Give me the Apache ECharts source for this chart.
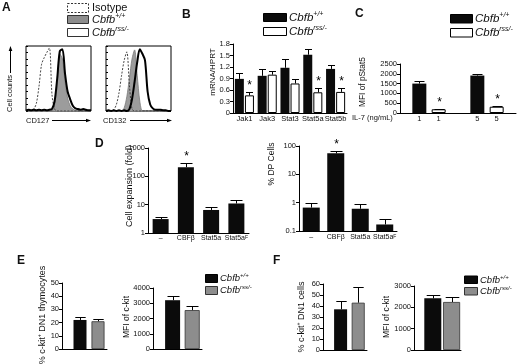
<!DOCTYPE html>
<html><head><meta charset="utf-8">
<script src="https://cdn.jsdelivr.net/npm/echarts@6/dist/echarts.min.js"></script>
<style>html,body{margin:0;padding:0;background:#fff}#c{width:520px;height:364px}</style>
</head><body><div id="c"></div><script>
const FF = 'Liberation Sans, Arial, Helvetica, sans-serif';
const INK = '#111';

// ---- Panel A: flow cytometry histograms (bins 0..100, step 4)
const histBins = [0,4,8,12,16,20,24,28,32,36,40,44,48,52,56,60,64,68,72,76,80,84,88,92,96,100];
const cd127Iso = [0,0,1,3,12,38,72,82,90,97,25,3,0,0,0,0,0,0,0,0,0,0,0,0,0,0];
const cd127Wt  = [0,0,0,0,0,0,0,0,0,0,0,10,40,88,80,45,20,8,3,1,0,0,0,0,0,0];
const cd127Rss = [1,2,1,2,1,2,1,2,1,2,3,15,50,92,95,58,30,18,8,4,3,2,3,2,1,1];
const cd132Iso = [0,0,0,2,10,28,55,78,91,40,3,0,0,0,0,0,0,0,0,0,0,0,0,0,0,0];
const cd132Wt  = [0,0,0,0,0,0,0,5,22,50,80,94,55,15,0,0,0,0,0,0,0,0,0,0,0,0];
const cd132Rss = [0,1,0,1,0,1,0,1,0,3,18,45,75,95,88,78,30,10,4,2,2,2,1,1,0,0];

// ---- Panel B: mRNA/HPRT
const bGenes = ['Jak1','Jak3','Stat3','Stat5a','Stat5b'];
const bWt     = [0.89,0.97,1.18,1.52,1.15];
const bWtErr  = [1.05,1.14,1.42,1.67,1.24];
const bRss    = [0.46,1.00,0.77,0.54,0.55];
const bRssErr = [0.55,1.09,0.89,0.64,0.65];
const bRssStar = [1,0,0,1,1];

// ---- Panel C: MFI of pStat5
const cDoses = ['1','5'];
const cWt     = [1500,1910];
const cWtErr  = [1610,2000];
const cRss    = [190,320];
const cRssErr = [210,350];
const cRssStar = [1,1];

// ---- Panel D
const dCats = ['–','CBFβ','Stat5a','Stat5aF'];
const dExp     = [3.1,210,6.5,11];
const dExpErr  = [3.7,290,8.0,15];
const dExpStar = [0,1,0,0];
const dDp      = [0.67,55,0.61,0.17];
const dDpErr   = [1.0,68,0.88,0.26];
const dDpStar  = [0,1,0,0];

// ---- Panels E, F
const eFreq = [22,21];     const eFreqErr = [24.5,23];
const eMfi  = [3200,2550]; const eMfiErr  = [3450,2800];
const fFreq = [37,43];     const fFreqErr = [45,57];
const fMfi  = [2420,2250]; const fMfiErr  = [2600,2470];

const chart = echarts.init(document.getElementById('c'), null, {renderer:'canvas'});

const grids = [
  {left:26, top:46, width:65, height:65, show:true, borderColor:'#000', borderWidth:1},   // 0 A left
  {left:106, top:46, width:65, height:65, show:true, borderColor:'#000', borderWidth:1},  // 1 A right
  {left:233, top:44, width:114, height:69},   // 2 B
  {left:400, top:64, width:116, height:49},   // 3 C
  {left:148, top:148, width:101, height:85},  // 4 D left
  {left:299, top:146, width:98, height:85},   // 5 D right
  {left:62, top:283, width:45, height:66},    // 6 E left
  {left:153, top:288, width:49, height:61},   // 7 E right
  {left:323, top:284, width:44, height:66},   // 8 F left
  {left:414, top:286, width:47, height:64}    // 9 F right
];

const axLine = {show:true, lineStyle:{color:'#000', width:1}};
const tickLab = {fontSize:7.5, color:INK, fontFamily:FF, margin:3, formatter: v => String(v)};
function yVal(gi, min, max, interval, extra) {
  return Object.assign({type:'value', gridIndex:gi, min, max, interval, axisLine:axLine,
    axisTick:{show:true, length:3, lineStyle:{color:'#000'}}, splitLine:{show:false},
    axisLabel:Object.assign({}, tickLab)}, extra||{});
}
function yLog(gi, min, max) {
  return {type:'log', logBase:10, gridIndex:gi, min, max, axisLine:axLine,
    axisTick:{show:true, length:3, lineStyle:{color:'#000'}}, splitLine:{show:false},
    minorTick:{show:false}, axisLabel:Object.assign({}, tickLab)};
}
const dLabel = {fontSize:7, color:INK, fontFamily:FF, margin:2,
  formatter: v => v === 'Stat5aF' ? 'Stat5a{sup|F}' : v,
  rich:{sup:{fontSize:5, verticalAlign:'top', lineHeight:5, fontFamily:FF, color:INK}}};

const xAxes = [
  {type:'value', gridIndex:0, min:0, max:100, show:false},
  {type:'value', gridIndex:1, min:0, max:100, show:false},
  {type:'category', gridIndex:2, data:bGenes, axisLine:axLine, axisTick:{show:false},
    axisLabel:{fontSize:7.5, color:INK, fontFamily:FF, margin:2, interval:0}},
  {type:'value', gridIndex:3, min:0, max:6, axisLine:axLine, axisTick:{show:false}, splitLine:{show:false},
    axisLabel:{fontSize:7.5, color:INK, fontFamily:FF, margin:2,
      customValues: cDoses.flatMap((d,g)=>[g*3+1, g*3+2]),
      formatter: v => cDoses[Math.floor((v-1)/3)]}},
  {type:'category', gridIndex:4, data:dCats, axisLine:axLine, axisTick:{show:false}, axisLabel:Object.assign({}, dLabel, {interval:0})},
  {type:'category', gridIndex:5, data:dCats, axisLine:axLine, axisTick:{show:false}, axisLabel:Object.assign({}, dLabel, {interval:0, margin:3})},
  {type:'value', gridIndex:6, min:0, max:2.5, axisLine:axLine, axisTick:{show:false}, axisLabel:{show:false}, splitLine:{show:false}},
  {type:'value', gridIndex:7, min:0, max:2.5, axisLine:axLine, axisTick:{show:false}, axisLabel:{show:false}, splitLine:{show:false}},
  {type:'value', gridIndex:8, min:0, max:2.5, axisLine:axLine, axisTick:{show:false}, axisLabel:{show:false}, splitLine:{show:false}},
  {type:'value', gridIndex:9, min:0, max:2.5, axisLine:axLine, axisTick:{show:false}, axisLabel:{show:false}, splitLine:{show:false}}
];
const histY = gi => ({type:'value', gridIndex:gi, min:0, max:100, interval:10, axisLine:{show:false},
  axisLabel:{show:false}, splitLine:{show:false}, axisTick:{show:true, inside:true, length:2, lineStyle:{color:'#000'}}});
const yAxes = [
  histY(0), histY(1),
  yVal(2, 0, 1.8, 0.3, {axisLabel:Object.assign({}, tickLab, {formatter: v => v === 0 ? '0' : v.toFixed(1)})}),
  yVal(3, 0, 2500, 500),
  yLog(4, 1, 1000),
  yLog(5, 0.1, 100),
  yVal(6, 0, 50, 10),
  yVal(7, 0, 4000, 1000),
  yVal(8, 0, 60, 10),
  yVal(9, 0, 3000, 1000)
];

const pairs = arr => histBins.map((b,i)=>[b, arr[i]]);
function histSeries(i, iso, wt, rss) {
  return [
    {type:'line', xAxisIndex:i, yAxisIndex:i, data:pairs(wt), smooth:0.3, showSymbol:false, silent:true,
      lineStyle:{color:'#7a7a7a', width:0.8}, areaStyle:{color:'#9c9c9c', opacity:1}, z:2},
    {type:'line', xAxisIndex:i, yAxisIndex:i, data:pairs(iso), smooth:0.3, showSymbol:false, silent:true,
      lineStyle:{color:'#333', width:0.9, type:[2,1.5]}, z:3},
    {type:'line', xAxisIndex:i, yAxisIndex:i, data:pairs(rss), smooth:0.3, showSymbol:false, silent:true,
      lineStyle:{color:'#000', width:2}, z:4}
  ];
}

function errSeries(xi, data, offset, cap) {
  return {type:'custom', xAxisIndex:xi, yAxisIndex:xi, z:10, silent:true, data,
    renderItem(params, api) {
      const a = api.coord([api.value(0), api.value(1)]);
      const b = api.coord([api.value(0), api.value(2)]);
      const x = Math.round(a[0] + offset) + 0.5;
      const yt = Math.round(b[1]) + 0.5;
      const ch = [
        {type:'line', shape:{x1:x, y1:a[1], x2:x, y2:yt}, style:{stroke:'#000', lineWidth:1}},
        {type:'line', shape:{x1:x-cap, y1:yt, x2:x+cap, y2:yt}, style:{stroke:'#000', lineWidth:1}}
      ];
      if (api.value(3)) ch.push({type:'text', style:{text:'*', x:x, y:yt-1, align:'center', verticalAlign:'bottom',
        fontSize:12, fontFamily:FF, fill:'#000'}});
      return {type:'group', children:ch};
    }};
}
function logBars(xi, vals, base, width) {
  return {type:'custom', xAxisIndex:xi, yAxisIndex:xi, z:5, silent:true,
    data: vals.map((v,i)=>[i, v]),
    renderItem(params, api) {
      const t = api.coord([api.value(0), api.value(1)]);
      const b = api.coord([api.value(0), base]);
      return {type:'rect', shape:{x:t[0]-width/2, y:t[1], width:width, height:b[1]-t[1]}, style:{fill:'#0b0b0b'}};
    }};
}
const BLACK = {color:'#0b0b0b'};
const WHITE = {color:'#fff', borderColor:'#000', borderWidth:1};
const GRAY  = {color:'#8d8d8d', borderColor:'#333', borderWidth:0.8};

const series = [
  ...histSeries(0, cd127Iso, cd127Wt, cd127Rss),
  ...histSeries(1, cd132Iso, cd132Wt, cd132Rss),
  // B
  {type:'bar', xAxisIndex:2, yAxisIndex:2, data:bWt, barWidth:9, barGap:'12%', itemStyle:BLACK, silent:true},
  {type:'bar', xAxisIndex:2, yAxisIndex:2, data:bRss, barWidth:9, barGap:'12%', itemStyle:WHITE, silent:true},
  errSeries(2, bWt.map((v,i)=>[i, v, bWtErr[i], 0]), -5, 3.5),
  errSeries(2, bRss.map((v,i)=>[i, v, bRssErr[i], bRssStar[i]]), 5, 3.5),
  // C
  {type:'bar', xAxisIndex:3, yAxisIndex:3, data:cWt.map((v,g)=>[g*3+1, v]), barWidth:14, barGap:'-100%', itemStyle:BLACK, silent:true},
  {type:'bar', xAxisIndex:3, yAxisIndex:3, data:cRss.map((v,g)=>[g*3+2, v]), barWidth:14, barGap:'-100%', itemStyle:WHITE, silent:true},
  errSeries(3, cWt.map((v,g)=>[g*3+1, v, cWtErr[g], 0]), 0, 5),
  errSeries(3, cRss.map((v,g)=>[g*3+2, v, cRssErr[g], cRssStar[g]]), 0, 5),
  // D
  logBars(4, dExp, 1, 16),
  errSeries(4, dExp.map((v,i)=>[i, v, dExpErr[i], dExpStar[i]]), 0, 6),
  logBars(5, dDp, 0.1, 17),
  errSeries(5, dDp.map((v,i)=>[i, v, dDpErr[i], dDpStar[i]]), 0, 6),
];
// E, F
[[6, eFreq, eFreqErr, 13], [7, eMfi, eMfiErr, 15], [8, fFreq, fFreqErr, 13], [9, fMfi, fMfiErr, 17]].forEach(([gi, vals, errs, w]) => {
  series.push({type:'bar', xAxisIndex:gi, yAxisIndex:gi, data:[[1, vals[0]]], barWidth:w, barGap:'-100%', itemStyle:BLACK, silent:true});
  series.push({type:'bar', xAxisIndex:gi, yAxisIndex:gi, data:[[2, vals[1]]], barWidth:w, barGap:'-100%', itemStyle:GRAY, silent:true});
  series.push(errSeries(gi, vals.map((v,i)=>[i+1, v, errs[i], 0]), 0, w*0.4));
});

// ---- graphic helpers (labels, legends)
function txt(x, y, text, o) {
  o = o || {};
  const fs = o.fs || 8;
  return {type:'text', x:x, y:y, rotation:o.rot||0, silent:true, z:50,
    style:{text:text, fontSize:fs, fontFamily:FF, fontWeight:o.bold?'bold':'normal', fill:INK,
      align:o.align||'left', verticalAlign:'middle', rich:o.rich}};
}
function supRich(fs, italic) {
  return {
    i:{fontStyle:italic?'italic':'normal', fontSize:fs, fontFamily:FF, lineHeight:fs+2, fill:INK},
    s:{fontStyle:italic?'italic':'normal', fontSize:Math.round(fs*0.6), fontFamily:FF, verticalAlign:'top', lineHeight:Math.round(fs*0.6)+1, fill:INK}
  };
}
function box(x, y, w, h, fill, stroke, dash) {
  return {type:'rect', silent:true, z:50, shape:{x:x, y:y, width:w, height:h},
    style:{fill:fill, stroke:stroke||'#000', lineWidth:1, lineDash:dash||null}};
}
function line(x1, y1, x2, y2) {
  return {type:'line', silent:true, z:50, shape:{x1, y1, x2, y2}, style:{stroke:'#000', lineWidth:1}};
}
function tri(pts) { return {type:'polygon', silent:true, z:50, shape:{points:pts}, style:{fill:'#000'}}; }
const WT = '{i|Cbfb}{s|+/+}', RSS = '{i|Cbfb}{s|rss/-}';

const graphic = [
  // panel letters
  txt(2, 8, 'A', {fs:12, bold:true}), txt(182, 15, 'B', {fs:12, bold:true}), txt(355, 14, 'C', {fs:12, bold:true}),
  txt(95, 144, 'D', {fs:12, bold:true}), txt(17, 261, 'E', {fs:12, bold:true}), txt(273, 261, 'F', {fs:12, bold:true}),
  // A legend
  box(67.5, 3.5, 21, 9, '#fff', '#333', [2,1.5]), box(67.5, 15.5, 21, 8, '#8d8d8d', '#333'), box(67.5, 28.5, 21, 8, '#fff', '#333'),
  txt(92, 8, 'Isotype', {fs:11}), txt(92, 19.5, WT, {fs:11, rich:supRich(11, true)}), txt(92, 32.5, RSS, {fs:11, rich:supRich(11, true)}),
  // A axis labels and arrows
  txt(10, 112, 'Cell counts', {fs:7.5, rot:Math.PI/2}), line(10.5, 73, 10.5, 50), tri([[10.5,46],[8.7,51],[12.3,51]]),
  txt(26, 120.5, 'CD127', {fs:7.5}), line(52, 120.5, 87, 120.5), tri([[91,120.5],[86,118.7],[86,122.3]]),
  txt(103, 120.5, 'CD132', {fs:7.5}), line(130, 120.5, 168, 120.5), tri([[172,120.5],[167,118.7],[167,122.3]]),
  // B legend
  box(263.5, 13.5, 23, 8, '#0b0b0b', '#000'), box(263.5, 27.5, 23, 8, '#fff', '#000'),
  txt(289, 17.5, WT, {fs:11.5, rich:supRich(11.5, true)}), txt(289, 31.5, RSS, {fs:11.5, rich:supRich(11.5, true)}),
  txt(213, 72, 'mRNA/HPRT', {fs:8, rot:Math.PI/2, align:'center'}),
  // C legend
  box(450.5, 14.5, 22, 8.5, '#0b0b0b', '#000'), box(450.5, 28.5, 22, 8.5, '#fff', '#000'),
  txt(475, 18.5, WT, {fs:11.5, rich:supRich(11.5, true)}), txt(475, 32.5, RSS, {fs:11.5, rich:supRich(11.5, true)}),
  txt(363, 82, 'MFI of pStat5', {fs:8.3, rot:Math.PI/2, align:'center'}),
  txt(352, 118, 'IL-7 (ng/mL)', {fs:7.5}),
  // D
  txt(130, 186, 'Cell expansion (fold)', {fs:9, rot:Math.PI/2, align:'center'}),
  txt(272, 164, '% DP Cells', {fs:8.5, rot:Math.PI/2, align:'center'}),
  // E
  txt(43, 315, '{i|% c-kit}{s|+}{i| DN1 thymocytes}', {fs:9, rot:Math.PI/2, align:'center', rich:supRich(9, false)}),
  txt(127, 317, 'MFI of c-kit', {fs:8.5, rot:Math.PI/2, align:'center'}),
  box(205.5, 274.5, 12, 8, '#0b0b0b', '#000'), box(205.5, 286.5, 12, 8, '#8d8d8d', '#333'),
  txt(220, 278.5, WT, {fs:9.5, rich:supRich(9.5, true)}), txt(220, 290.5, RSS, {fs:9.5, rich:supRich(9.5, true)}),
  // F
  txt(302, 317, '{i|% c-kit}{s|+}{i| DN1 cells}', {fs:9, rot:Math.PI/2, align:'center', rich:supRich(9, false)}),
  txt(387, 317, 'MFI of c-kit', {fs:8.5, rot:Math.PI/2, align:'center'}),
  box(464.5, 276, 13, 7.5, '#0b0b0b', '#000'), box(464.5, 287.5, 13, 7.5, '#8d8d8d', '#333'),
  txt(480, 280, WT, {fs:9.5, rich:supRich(9.5, true)}), txt(480, 291.5, RSS, {fs:9.5, rich:supRich(9.5, true)})
];

chart.setOption({
  animation:false,
  backgroundColor:'#fff',
  textStyle:{fontFamily:FF, color:INK},
  grid:grids, xAxis:xAxes, yAxis:yAxes, series:series, graphic:graphic
});
</script></body></html>
